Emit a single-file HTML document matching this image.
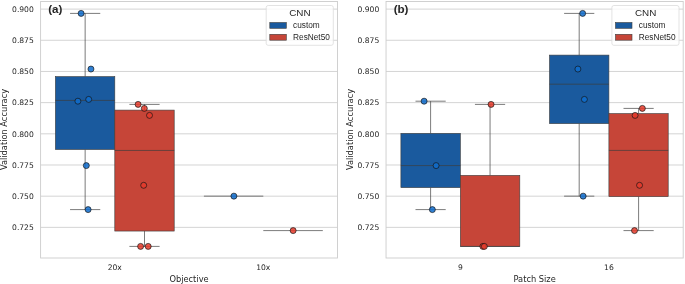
<!DOCTYPE html>
<html><head><meta charset="utf-8"><title>Figure</title>
<style>
html,body{margin:0;padding:0;background:#fff;}
svg{display:block}
.tk{font-family:"DejaVu Sans",sans-serif;font-size:7.6px;fill:#262626}
.lb{font-family:"DejaVu Sans",sans-serif;font-size:8.27px;fill:#262626}
.ttl{font-family:"Liberation Sans",sans-serif;font-weight:bold;font-size:11.6px;fill:#262626}
.lt{font-family:"Liberation Sans",sans-serif;font-size:9.85px;fill:#262626}
.lg{font-family:"Liberation Sans",sans-serif;font-size:8.28px;fill:#262626}
</style></head><body>
<svg width="685" height="284" viewBox="0 0 685 284">
<rect width="685" height="284" fill="#ffffff"/>
<line x1="40.6" x2="337.5" y1="9.10" y2="9.10" stroke="#cccccc" stroke-width="0.85"/>
<text x="33.800000000000004" y="11.90" text-anchor="end" class="tk">0.900</text>
<line x1="40.6" x2="337.5" y1="40.28" y2="40.28" stroke="#cccccc" stroke-width="0.85"/>
<text x="33.800000000000004" y="43.08" text-anchor="end" class="tk">0.875</text>
<line x1="40.6" x2="337.5" y1="71.46" y2="71.46" stroke="#cccccc" stroke-width="0.85"/>
<text x="33.800000000000004" y="74.26" text-anchor="end" class="tk">0.850</text>
<line x1="40.6" x2="337.5" y1="102.64" y2="102.64" stroke="#cccccc" stroke-width="0.85"/>
<text x="33.800000000000004" y="105.44" text-anchor="end" class="tk">0.825</text>
<line x1="40.6" x2="337.5" y1="133.82" y2="133.82" stroke="#cccccc" stroke-width="0.85"/>
<text x="33.800000000000004" y="136.62" text-anchor="end" class="tk">0.800</text>
<line x1="40.6" x2="337.5" y1="165.00" y2="165.00" stroke="#cccccc" stroke-width="0.85"/>
<text x="33.800000000000004" y="167.80" text-anchor="end" class="tk">0.775</text>
<line x1="40.6" x2="337.5" y1="196.18" y2="196.18" stroke="#cccccc" stroke-width="0.85"/>
<text x="33.800000000000004" y="198.98" text-anchor="end" class="tk">0.750</text>
<line x1="40.6" x2="337.5" y1="227.36" y2="227.36" stroke="#cccccc" stroke-width="0.85"/>
<text x="33.800000000000004" y="230.16" text-anchor="end" class="tk">0.725</text>
<line x1="85.15" x2="85.15" y1="13.4" y2="76.6" stroke="#3d3d3d" stroke-width="0.68"/>
<line x1="85.15" x2="85.15" y1="149.5" y2="209.6" stroke="#3d3d3d" stroke-width="0.68"/>
<line x1="70.05000000000001" x2="100.25" y1="13.4" y2="13.4" stroke="#3d3d3d" stroke-width="0.68"/>
<line x1="70.05000000000001" x2="100.25" y1="209.6" y2="209.6" stroke="#3d3d3d" stroke-width="0.68"/>
<rect x="55.4" y="76.6" width="59.4" height="72.9" fill="#1a5a9e" stroke="#3d3d3d" stroke-width="0.62"/>
<line x1="55.4" x2="114.8" y1="100.4" y2="100.4" stroke="#3d3d3d" stroke-width="0.68"/>
<line x1="144.5" x2="144.5" y1="104.4" y2="110.1" stroke="#3d3d3d" stroke-width="0.68"/>
<line x1="144.5" x2="144.5" y1="231.05" y2="246.4" stroke="#3d3d3d" stroke-width="0.68"/>
<line x1="129.4" x2="159.6" y1="104.4" y2="104.4" stroke="#3d3d3d" stroke-width="0.68"/>
<line x1="129.4" x2="159.6" y1="246.4" y2="246.4" stroke="#3d3d3d" stroke-width="0.68"/>
<rect x="114.8" y="110.1" width="59.39999999999999" height="120.95000000000002" fill="#c64538" stroke="#3d3d3d" stroke-width="0.62"/>
<line x1="114.8" x2="174.2" y1="150.45" y2="150.45" stroke="#3d3d3d" stroke-width="0.68"/>
<line x1="203.9" x2="263.3" y1="196.15" y2="196.15" stroke="#3d3d3d" stroke-width="0.68"/>
<line x1="263.3" x2="322.8" y1="230.6" y2="230.6" stroke="#3d3d3d" stroke-width="0.68"/>
<circle cx="81.1" cy="13.4" r="3.0" fill="#0f6ccd" fill-opacity="0.86" stroke="#141414" stroke-opacity="0.9" stroke-width="0.75"/>
<circle cx="90.95" cy="69.05" r="3.0" fill="#0f6ccd" fill-opacity="0.86" stroke="#141414" stroke-opacity="0.9" stroke-width="0.75"/>
<circle cx="77.9" cy="101.2" r="3.0" fill="#0f6ccd" fill-opacity="0.86" stroke="#141414" stroke-opacity="0.9" stroke-width="0.75"/>
<circle cx="88.7" cy="99.4" r="3.0" fill="#0f6ccd" fill-opacity="0.86" stroke="#141414" stroke-opacity="0.9" stroke-width="0.75"/>
<circle cx="86.3" cy="165.6" r="3.0" fill="#0f6ccd" fill-opacity="0.86" stroke="#141414" stroke-opacity="0.9" stroke-width="0.75"/>
<circle cx="88.1" cy="209.6" r="3.0" fill="#0f6ccd" fill-opacity="0.86" stroke="#141414" stroke-opacity="0.9" stroke-width="0.75"/>
<circle cx="138.1" cy="104.4" r="3.0" fill="#e43a2b" fill-opacity="0.86" stroke="#141414" stroke-opacity="0.9" stroke-width="0.75"/>
<circle cx="144.3" cy="108.4" r="3.0" fill="#e43a2b" fill-opacity="0.86" stroke="#141414" stroke-opacity="0.9" stroke-width="0.75"/>
<circle cx="149.5" cy="115.4" r="3.0" fill="#e43a2b" fill-opacity="0.86" stroke="#141414" stroke-opacity="0.9" stroke-width="0.75"/>
<circle cx="143.7" cy="185.3" r="3.0" fill="#e43a2b" fill-opacity="0.86" stroke="#141414" stroke-opacity="0.9" stroke-width="0.75"/>
<circle cx="140.6" cy="246.4" r="3.0" fill="#e43a2b" fill-opacity="0.86" stroke="#141414" stroke-opacity="0.9" stroke-width="0.75"/>
<circle cx="148.2" cy="246.4" r="3.0" fill="#e43a2b" fill-opacity="0.86" stroke="#141414" stroke-opacity="0.9" stroke-width="0.75"/>
<circle cx="233.9" cy="196.15" r="3.0" fill="#0f6ccd" fill-opacity="0.86" stroke="#141414" stroke-opacity="0.9" stroke-width="0.75"/>
<circle cx="293.15" cy="230.6" r="3.0" fill="#e43a2b" fill-opacity="0.86" stroke="#141414" stroke-opacity="0.9" stroke-width="0.75"/>
<rect x="40.6" y="1.5" width="296.9" height="256.5" fill="none" stroke="#cccccc" stroke-width="0.9"/>
<text x="114.8" y="270.1" text-anchor="middle" class="tk">20x</text>
<text x="263.3" y="270.1" text-anchor="middle" class="tk">10x</text>
<text x="189.05" y="281.5" text-anchor="middle" class="lb">Objective</text>
<text transform="translate(7.200000000000003,129.5) rotate(-90)" text-anchor="middle" class="lb">Validation Accuracy</text>
<text x="48.2" y="13.4" class="ttl">(a)</text>
<rect x="266.2" y="5.5" width="67.1" height="39.8" rx="2" ry="2" fill="#ffffff" fill-opacity="0.8" stroke="#dcdcdc" stroke-width="0.8"/>
<text x="299.9" y="15.95" text-anchor="middle" class="lt">CNN</text>
<rect x="269.8" y="22.5" width="16.5" height="5.8" fill="#1a5a9e" stroke="#3d3d3d" stroke-width="0.6"/>
<rect x="269.8" y="34.3" width="16.5" height="5.9" fill="#c64538" stroke="#3d3d3d" stroke-width="0.6"/>
<text x="293.09999999999997" y="28.05" class="lg">custom</text>
<text x="293.09999999999997" y="39.95" class="lg">ResNet50</text>
<line x1="386.05" x2="683.2" y1="9.10" y2="9.10" stroke="#cccccc" stroke-width="0.85"/>
<text x="379.25" y="11.90" text-anchor="end" class="tk">0.900</text>
<line x1="386.05" x2="683.2" y1="40.28" y2="40.28" stroke="#cccccc" stroke-width="0.85"/>
<text x="379.25" y="43.08" text-anchor="end" class="tk">0.875</text>
<line x1="386.05" x2="683.2" y1="71.46" y2="71.46" stroke="#cccccc" stroke-width="0.85"/>
<text x="379.25" y="74.26" text-anchor="end" class="tk">0.850</text>
<line x1="386.05" x2="683.2" y1="102.64" y2="102.64" stroke="#cccccc" stroke-width="0.85"/>
<text x="379.25" y="105.44" text-anchor="end" class="tk">0.825</text>
<line x1="386.05" x2="683.2" y1="133.82" y2="133.82" stroke="#cccccc" stroke-width="0.85"/>
<text x="379.25" y="136.62" text-anchor="end" class="tk">0.800</text>
<line x1="386.05" x2="683.2" y1="165.00" y2="165.00" stroke="#cccccc" stroke-width="0.85"/>
<text x="379.25" y="167.80" text-anchor="end" class="tk">0.775</text>
<line x1="386.05" x2="683.2" y1="196.18" y2="196.18" stroke="#cccccc" stroke-width="0.85"/>
<text x="379.25" y="198.98" text-anchor="end" class="tk">0.750</text>
<line x1="386.05" x2="683.2" y1="227.36" y2="227.36" stroke="#cccccc" stroke-width="0.85"/>
<text x="379.25" y="230.16" text-anchor="end" class="tk">0.725</text>
<line x1="430.6" x2="430.6" y1="101.2" y2="133.4" stroke="#3d3d3d" stroke-width="0.68"/>
<line x1="430.6" x2="430.6" y1="187.6" y2="209.6" stroke="#3d3d3d" stroke-width="0.68"/>
<line x1="415.5" x2="445.70000000000005" y1="101.2" y2="101.2" stroke="#3d3d3d" stroke-width="0.68"/>
<line x1="415.5" x2="445.70000000000005" y1="209.6" y2="209.6" stroke="#3d3d3d" stroke-width="0.68"/>
<rect x="400.9" y="133.4" width="59.450000000000045" height="54.19999999999999" fill="#1a5a9e" stroke="#3d3d3d" stroke-width="0.62"/>
<line x1="400.9" x2="460.35" y1="165.6" y2="165.6" stroke="#3d3d3d" stroke-width="0.68"/>
<line x1="490.05" x2="490.05" y1="104.4" y2="175.4" stroke="#3d3d3d" stroke-width="0.68"/>
<line x1="474.95" x2="505.15000000000003" y1="104.4" y2="104.4" stroke="#3d3d3d" stroke-width="0.68"/>
<rect x="460.35" y="175.4" width="59.44999999999993" height="71.0" fill="#c64538" stroke="#3d3d3d" stroke-width="0.62"/>
<line x1="460.35" x2="519.8" y1="246.4" y2="246.4" stroke="#3d3d3d" stroke-width="0.68"/>
<line x1="579.2" x2="579.2" y1="13.4" y2="55.1" stroke="#3d3d3d" stroke-width="0.68"/>
<line x1="579.2" x2="579.2" y1="123.6" y2="196.15" stroke="#3d3d3d" stroke-width="0.68"/>
<line x1="564.1" x2="594.3000000000001" y1="13.4" y2="13.4" stroke="#3d3d3d" stroke-width="0.68"/>
<line x1="564.1" x2="594.3000000000001" y1="196.15" y2="196.15" stroke="#3d3d3d" stroke-width="0.68"/>
<rect x="549.5" y="55.1" width="59.39999999999998" height="68.5" fill="#1a5a9e" stroke="#3d3d3d" stroke-width="0.62"/>
<line x1="549.5" x2="608.9" y1="84.2" y2="84.2" stroke="#3d3d3d" stroke-width="0.68"/>
<line x1="638.6" x2="638.6" y1="108.4" y2="113.6" stroke="#3d3d3d" stroke-width="0.68"/>
<line x1="638.6" x2="638.6" y1="196.6" y2="230.6" stroke="#3d3d3d" stroke-width="0.68"/>
<line x1="623.5" x2="653.7" y1="108.4" y2="108.4" stroke="#3d3d3d" stroke-width="0.68"/>
<line x1="623.5" x2="653.7" y1="230.6" y2="230.6" stroke="#3d3d3d" stroke-width="0.68"/>
<rect x="608.9" y="113.6" width="59.30000000000007" height="83.0" fill="#c64538" stroke="#3d3d3d" stroke-width="0.62"/>
<line x1="608.9" x2="668.2" y1="150.4" y2="150.4" stroke="#3d3d3d" stroke-width="0.68"/>
<circle cx="424.1" cy="101.2" r="3.0" fill="#0f6ccd" fill-opacity="0.86" stroke="#141414" stroke-opacity="0.9" stroke-width="0.75"/>
<circle cx="436.1" cy="165.6" r="3.0" fill="#0f6ccd" fill-opacity="0.86" stroke="#141414" stroke-opacity="0.9" stroke-width="0.75"/>
<circle cx="432.35" cy="209.6" r="3.0" fill="#0f6ccd" fill-opacity="0.86" stroke="#141414" stroke-opacity="0.9" stroke-width="0.75"/>
<circle cx="491.05" cy="104.4" r="3.0" fill="#e43a2b" fill-opacity="0.86" stroke="#141414" stroke-opacity="0.9" stroke-width="0.75"/>
<circle cx="482.85" cy="246.4" r="3.0" fill="#e43a2b" fill-opacity="0.86" stroke="#141414" stroke-opacity="0.9" stroke-width="0.75"/>
<circle cx="484.35" cy="246.4" r="3.0" fill="#e43a2b" fill-opacity="0.86" stroke="#141414" stroke-opacity="0.9" stroke-width="0.75"/>
<circle cx="582.65" cy="13.4" r="3.0" fill="#0f6ccd" fill-opacity="0.86" stroke="#141414" stroke-opacity="0.9" stroke-width="0.75"/>
<circle cx="577.9" cy="69.05" r="3.0" fill="#0f6ccd" fill-opacity="0.86" stroke="#141414" stroke-opacity="0.9" stroke-width="0.75"/>
<circle cx="584.4" cy="99.4" r="3.0" fill="#0f6ccd" fill-opacity="0.86" stroke="#141414" stroke-opacity="0.9" stroke-width="0.75"/>
<circle cx="583.15" cy="196.15" r="3.0" fill="#0f6ccd" fill-opacity="0.86" stroke="#141414" stroke-opacity="0.9" stroke-width="0.75"/>
<circle cx="642.35" cy="108.4" r="3.0" fill="#e43a2b" fill-opacity="0.86" stroke="#141414" stroke-opacity="0.9" stroke-width="0.75"/>
<circle cx="635.1" cy="115.4" r="3.0" fill="#e43a2b" fill-opacity="0.86" stroke="#141414" stroke-opacity="0.9" stroke-width="0.75"/>
<circle cx="639.55" cy="185.3" r="3.0" fill="#e43a2b" fill-opacity="0.86" stroke="#141414" stroke-opacity="0.9" stroke-width="0.75"/>
<circle cx="634.5" cy="230.6" r="3.0" fill="#e43a2b" fill-opacity="0.86" stroke="#141414" stroke-opacity="0.9" stroke-width="0.75"/>
<rect x="386.05" y="1.5" width="297.15000000000003" height="256.5" fill="none" stroke="#cccccc" stroke-width="0.9"/>
<text x="460.35" y="270.1" text-anchor="middle" class="tk">9</text>
<text x="608.9" y="270.1" text-anchor="middle" class="tk">16</text>
<text x="534.625" y="281.5" text-anchor="middle" class="lb">Patch Size</text>
<text transform="translate(352.65000000000003,129.5) rotate(-90)" text-anchor="middle" class="lb">Validation Accuracy</text>
<text x="393.65000000000003" y="13.4" class="ttl">(b)</text>
<rect x="611.9000000000001" y="5.5" width="67.1" height="39.8" rx="2" ry="2" fill="#ffffff" fill-opacity="0.8" stroke="#dcdcdc" stroke-width="0.8"/>
<text x="645.6000000000001" y="15.95" text-anchor="middle" class="lt">CNN</text>
<rect x="615.5000000000001" y="22.5" width="16.5" height="5.8" fill="#1a5a9e" stroke="#3d3d3d" stroke-width="0.6"/>
<rect x="615.5000000000001" y="34.3" width="16.5" height="5.9" fill="#c64538" stroke="#3d3d3d" stroke-width="0.6"/>
<text x="638.8000000000001" y="28.05" class="lg">custom</text>
<text x="638.8000000000001" y="39.95" class="lg">ResNet50</text>
</svg>
</body></html>
